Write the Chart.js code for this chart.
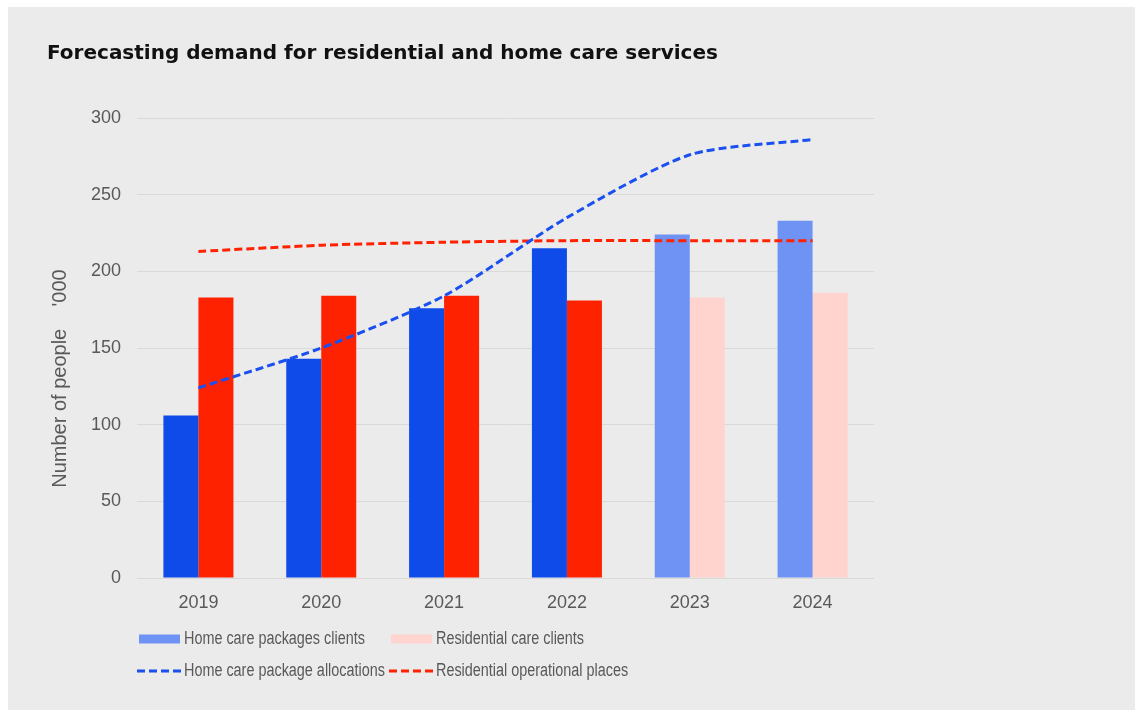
<!DOCTYPE html>
<html>
<head>
<meta charset="utf-8">
<script src="https://cdn.jsdelivr.net/npm/chart.js@4"></script>
<style>
  body { margin: 0; background: #fff; }
  #panel { position: absolute; left: 8px; top: 7px; width: 1127px; height: 703px; background: #ebebeb; }
  #chart { position: absolute; left: 0; top: 0; }
</style>
</head>
<body>
<div id="panel"></div>
<canvas id="chart" width="1135" height="710"></canvas>
<script>
const years = ['2019', '2020', '2021', '2022', '2023', '2024']
const homeCareClients = [106, 143, 176, 215, 224, 233]
const residentialClients = [183, 184, 184, 181, 183, 186]
const homeCareAllocations = [124, 150, 184, 235, 276, 286]
const residentialPlaces = [213, 217, 219, 220, 220, 220]
const yTicks = [0, 50, 100, 150, 200, 250, 300]

// 2023 and 2024 are projections, drawn in lighter shades
const firstForecast = 4
const blueBars = years.map((y, i) => i < firstForecast ? '#0f4be8' : '#6e93f4')
const redBars = years.map((y, i) => i < firstForecast ? '#ff2200' : '#ffd3ce')

const FONT = "'Liberation Sans', Arial, sans-serif"
const GREY = '#595959'

// two-column legend underneath the plot, text squeezed to a narrow face
const gridLegend = {
    id: 'gridLegend',
    afterDraw(chart) {
        const ctx = chart.ctx
        const left = chart.chartArea.left + 2
        const cols = [left, left + 252]
        const rows = [639, 671]
        const squeeze = 0.8
        const ds = chart.data.datasets
        ctx.save()
        ctx.font = '18px ' + FONT
        ctx.textBaseline = 'middle'
        ds.forEach((d, i) => {
            const x = cols[i % 2]
            const y = rows[Math.floor(i / 2)]
            if (d.type === 'line') {
                ctx.strokeStyle = d.borderColor
                ctx.lineWidth = 3
                ctx.setLineDash(d.borderDash)
                ctx.beginPath()
                ctx.moveTo(x - 2, y)
                ctx.lineTo(x + 42, y)
                ctx.stroke()
                ctx.setLineDash([])
            } else {
                ctx.fillStyle = d.backgroundColor[d.backgroundColor.length - 1]
                ctx.fillRect(x, y - 4.5, 41, 9)
            }
            ctx.save()
            ctx.translate(x + 45, y)
            ctx.scale(squeeze, 1)
            ctx.fillStyle = GREY
            ctx.fillText(d.label, 0, 0)
            ctx.restore()
        })
        ctx.restore()
    }
}

new Chart(document.getElementById('chart'), {
    type: 'bar',
    data: {
        labels: years,
        datasets: [
            {
                label: 'Home care packages clients',
                data: homeCareClients,
                backgroundColor: blueBars,
                order: 2
            },
            {
                label: 'Residential care clients',
                data: residentialClients,
                backgroundColor: redBars,
                order: 2
            },
            {
                type: 'line',
                label: 'Home care package allocations',
                data: homeCareAllocations,
                borderColor: '#1a4ff0',
                borderWidth: 3,
                borderDash: [8, 4],
                tension: 0.25,
                pointRadius: 0,
                fill: false,
                order: 1
            },
            {
                type: 'line',
                label: 'Residential operational places',
                data: residentialPlaces,
                borderColor: '#ff2200',
                borderWidth: 3,
                borderDash: [8, 4],
                tension: 0.25,
                pointRadius: 0,
                fill: false,
                order: 1
            }
        ]
    },
    options: {
        responsive: false,
        animation: false,
        devicePixelRatio: 1,
        layout: { padding: { left: 47, right: 261, top: 0, bottom: 92 } },
        datasets: {
            bar: { categoryPercentage: 0.57, barPercentage: 1 }
        },
        plugins: {
            legend: { display: false },
            tooltip: { enabled: false },
            title: {
                display: true,
                text: 'Forecasting demand for residential and home care services',
                align: 'start',
                color: '#111',
                font: { family: "'DejaVu Sans', " + FONT, size: 20, weight: 'bold' },
                padding: { top: 42, bottom: 52 }
            }
        },
        scales: {
            x: {
                grid: { display: false },
                border: { display: false },
                ticks: { color: GREY, font: { family: FONT, size: 18 }, padding: 6 },
                afterFit(scale) { scale.height = 40 }
            },
            y: {
                min: 0,
                max: 300,
                afterBuildTicks(scale) { scale.ticks = yTicks.map(v => ({ value: v })) },
                grid: { color: '#d9d9d9', lineWidth: 1, drawTicks: false },
                border: { display: false },
                ticks: { color: GREY, font: { family: FONT, size: 18 }, padding: 16 },
                title: {
                    display: true,
                    // trailing blanks push the label down the axis
                    text: "Number of people    '000" + ' '.repeat(11),
                    color: GREY,
                    font: { family: FONT, size: 20 },
                    padding: { top: 1, bottom: 4 }
                },
                afterFit(scale) { scale.width = 90 }
            }
        }
    },
    plugins: [gridLegend]
})
</script>
</body>
</html>
